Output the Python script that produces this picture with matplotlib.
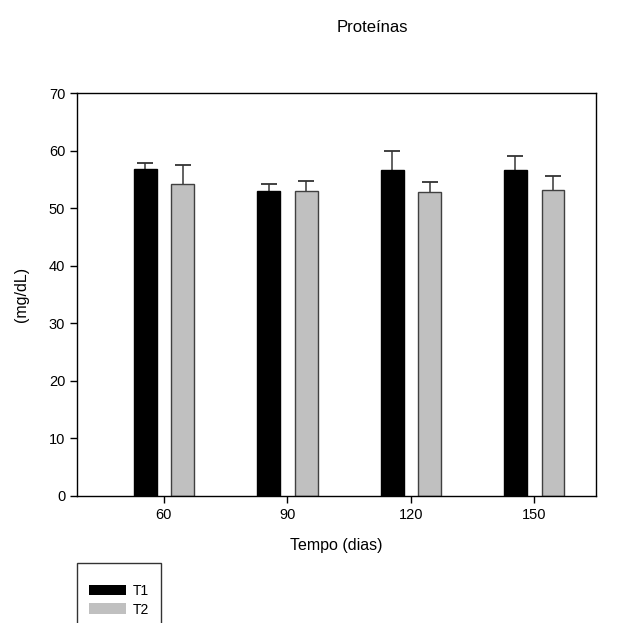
import matplotlib
matplotlib.use("Agg")
import matplotlib.pyplot as plt
import numpy as np

plt.rcParams['font.family'] = ['Liberation Sans', 'DejaVu Sans']

dias = ['60', '90', '120', '150']
t1 = [56.75, 52.9, 56.7, 56.6]
t1_err = [1.15, 1.35, 3.2, 2.5]
t2 = [54.25, 53.0, 52.75, 53.1]
t2_err = [3.25, 1.8, 1.85, 2.5]

fig = plt.figure(figsize=(6.33, 6.23), dpi=100)
ax = fig.add_axes([0.1216, 0.2039, 0.8199, 0.6468])

x = np.arange(len(dias))
w = 0.186
off = 0.152

ax.bar(x - off, t1, w, color='black', edgecolor='black', linewidth=1, label='T1', zorder=2)
ax.bar(x + off, t2, w, color='#c0c0c0', edgecolor='#404040', linewidth=1, label='T2', zorder=2)

# upper-only error bars, cap only at the top
for xs, ys, es in [(x - off, t1, t1_err), (x + off, t2, t2_err)]:
    ys = np.array(ys)
    es = np.array(es)
    ax.errorbar(xs, ys, yerr=[np.zeros(len(ys)), es], fmt='none',
                ecolor='#555555', elinewidth=1.3, capsize=0, zorder=1)
    ax.plot(xs, ys + es, linestyle='none', marker='_', markersize=11,
            markeredgewidth=1.3, color='#333333', zorder=1)

ax.set_xlim(-0.704, 3.50)
ax.set_ylim(0, 70)
ax.set_yticks(range(0, 71, 10))
ax.set_xticks(x)
ax.set_xticklabels(dias)
ax.tick_params(direction='out', length=5, labelsize=10.5, width=1)
for s in ax.spines.values():
    s.set_linewidth(1)

ax.set_xlabel('Tempo (dias)', fontsize=11.5, labelpad=12)
ax.set_ylabel('(mg/dL)', fontsize=11.5, labelpad=14)
fig.text(372 / 633, 1 - 28 / 623, 'Proteínas', ha='center', va='center', fontsize=12)

leg = fig.legend(loc='upper left', bbox_to_anchor=(77 / 633, 1 - 563 / 623),
                 fancybox=False, edgecolor='black', fontsize=10,
                 title=' ', title_fontsize=3,
                 handlelength=2.65, handleheight=0.8, borderpad=0.85,
                 labelspacing=0.35, handletextpad=0.5, borderaxespad=0)
leg.get_frame().set_linewidth(1)
for h in leg.legend_handles:
    h.set_edgecolor('none')

fig.savefig('out.png', dpi=100)
